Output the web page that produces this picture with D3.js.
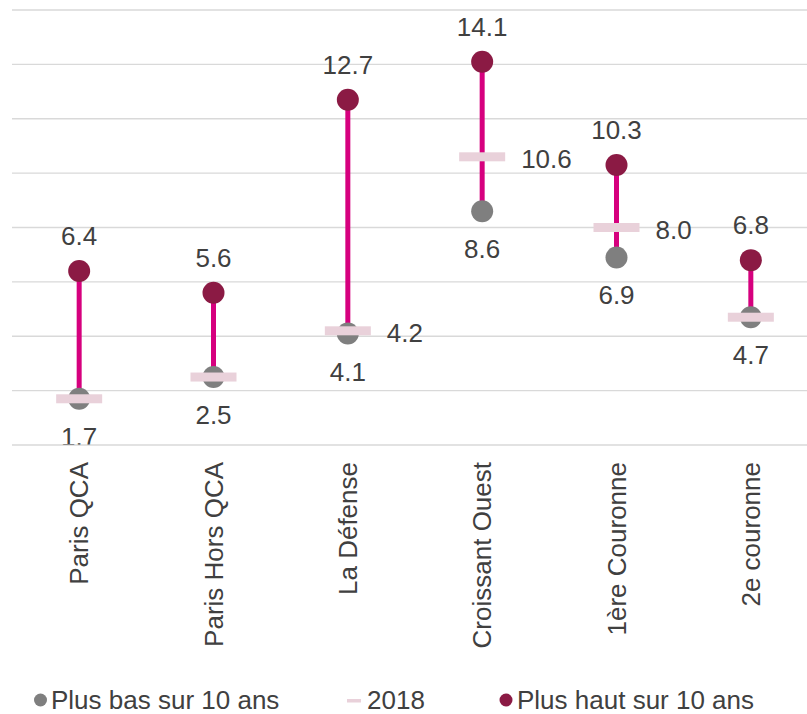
<!DOCTYPE html>
<html>
<head>
<meta charset="utf-8">
<script src="https://cdn.jsdelivr.net/npm/d3@7/dist/d3.min.js"></script>
<style>
  html, body { margin: 0; padding: 0; background: #fff; }
  svg { display: block; font-family: "Liberation Sans", Arial, sans-serif; }
</style>
</head>
<body>
<svg id="chart" width="807" height="714"></svg>
<script>
// Office vacancy range by market, 10-year low / 2018 / 10-year high
const categories = ["Paris QCA", "Paris Hors QCA", "La Défense", "Croissant Ouest", "1ère Couronne", "2e couronne"];
const lowValues  = [1.7, 2.5, 4.1, 8.6, 6.9, 4.7];
const highValues = [6.4, 5.6, 12.7, 14.1, 10.3, 6.8];
const values2018 = [1.7, 2.5, 4.2, 10.6, 8.0, 4.7];
const show2018Label = [false, false, true, true, true, false];
const yTicks = [0, 2, 4, 6, 8, 10, 12, 14, 16];
const legendLabels = ["Plus bas sur 10 ans", "2018", "Plus haut sur 10 ans"];

const colLow = "#7f7f7f", colHigh = "#8b1a44", colLine = "#d6007e", col2018 = "#e9d1da", colText = "#404040";
const fontSize = 26;

const svg = d3.select("#chart");
const x = d3.scaleBand().domain(categories).range([12, 818]);
const y = d3.scaleLinear().domain([0, 16]).range([445, 10]);
const cx = c => x(c) + x.bandwidth() / 2;

// data labels are clipped to the plot area (bottom edge = baseline)
svg.append("defs").append("clipPath").attr("id", "plot-clip")
  .append("rect").attr("x", 0).attr("y", 0).attr("width", 807).attr("height", y(0) - 0.5);

const rows = categories.map((c, i) => ({ c, lo: lowValues[i], hi: highValues[i], v: values2018[i], lab: show2018Label[i] }));
const fmt = d3.format(".1f");

// horizontal gridlines
svg.append("g").selectAll("line").data(yTicks).join("line")
  .attr("x1", 12).attr("x2", 807)
  .attr("y1", d => y(d)).attr("y2", d => y(d))
  .attr("stroke", "#d9d9d9").attr("stroke-width", 1.3);

// connecting ranges
svg.append("g").selectAll("line").data(rows).join("line")
  .attr("x1", d => cx(d.c)).attr("x2", d => cx(d.c))
  .attr("y1", d => y(d.lo)).attr("y2", d => y(d.hi))
  .attr("stroke", colLine).attr("stroke-width", 5);

// low points
svg.append("g").selectAll("circle").data(rows).join("circle")
  .attr("cx", d => cx(d.c)).attr("cy", d => y(d.lo)).attr("r", 11)
  .attr("fill", colLow);

// high points
svg.append("g").selectAll("circle").data(rows).join("circle")
  .attr("cx", d => cx(d.c)).attr("cy", d => y(d.hi)).attr("r", 11)
  .attr("fill", colHigh);

// 2018 dashes
svg.append("g").selectAll("rect").data(rows).join("rect")
  .attr("x", d => cx(d.c) - 23).attr("y", d => y(d.v) - 4.5)
  .attr("width", 46).attr("height", 9)
  .attr("fill", col2018);

// value labels, drawn on top of the gridlines
const labels = svg.append("g").attr("clip-path", "url(#plot-clip)")
  .attr("font-size", fontSize).attr("fill", colText);

labels.selectAll("text.hi").data(rows).join("text").attr("class", "hi")
  .attr("x", d => cx(d.c)).attr("y", d => y(d.hi) - 26)
  .attr("text-anchor", "middle").text(d => fmt(d.hi));

labels.selectAll("text.lo").data(rows).join("text").attr("class", "lo")
  .attr("x", d => cx(d.c)).attr("y", d => y(d.lo) + 47)
  .attr("text-anchor", "middle").text(d => fmt(d.lo));

labels.selectAll("text.v").data(rows.filter(d => d.lab)).join("text").attr("class", "v")
  .attr("x", d => cx(d.c) + 39).attr("y", d => y(d.v) + 11)
  .attr("text-anchor", "start").text(d => fmt(d.v));

// category axis labels, rotated
svg.append("g").attr("font-size", fontSize).attr("fill", colText)
  .selectAll("text").data(categories).join("text")
  .attr("transform", d => `translate(${cx(d) + 9},462) rotate(-90)`)
  .attr("text-anchor", "end").text(d => d);

// legend
const lg = svg.append("g").attr("font-size", fontSize).attr("fill", colText);
lg.append("circle").attr("cx", 40.5).attr("cy", 700).attr("r", 6.5).attr("fill", colLow);
lg.append("text").attr("x", 51).attr("y", 709).text(legendLabels[0]);
lg.append("rect").attr("x", 347).attr("y", 699).attr("width", 14).attr("height", 3.5).attr("fill", col2018);
lg.append("text").attr("x", 367).attr("y", 709).text(legendLabels[1]);
lg.append("circle").attr("cx", 506).attr("cy", 700).attr("r", 6.5).attr("fill", colHigh);
lg.append("text").attr("x", 517).attr("y", 709).text(legendLabels[2]);
</script>
</body>
</html>
